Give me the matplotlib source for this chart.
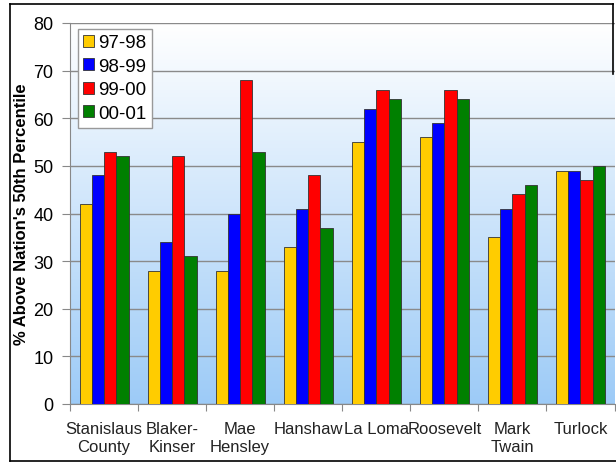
import numpy as np
import matplotlib
matplotlib.use("Agg")
from matplotlib import pyplot as plt
from matplotlib.colors import LinearSegmentedColormap
from matplotlib.lines import Line2D

plt.rcParams['font.family'] = ['Liberation Sans', 'DejaVu Sans']

# school names and yearly scores
schools = ["Stanislaus\nCounty", "Blaker-\nKinser", "Mae\nHensley", "Hanshaw",
           "La Loma", "Roosevelt", "Mark\nTwain", "Turlock"]
years = ["97-98", "98-99", "99-00", "00-01"]
scores_97_98 = [42, 28, 28, 33, 55, 56, 35, 49]
scores_98_99 = [48, 34, 40, 41, 62, 59, 41, 49]
scores_99_00 = [53, 52, 68, 48, 66, 66, 44, 47]
scores_00_01 = [52, 31, 53, 37, 64, 64, 46, 50]
colors = ["#FFCC00", "#0000FF", "#FF0000", "#008000"]

fig = plt.figure(figsize=(6.16, 4.64), dpi=100)
ax = fig.add_axes([70 / 616, 1 - 405 / 464, 544.5 / 616, 381 / 464])

# white-to-blue background
grad = LinearSegmentedColormap.from_list("bg", ["#FFFFFF", "#9DCBF7"])
ax.imshow(np.linspace(0, 1, 256).reshape(-1, 1), cmap=grad, aspect="auto",
          extent=[0, len(schools), 0, 80], zorder=0)

x = np.arange(len(schools)) + 0.5
w = 0.18
series = [scores_97_98, scores_98_99, scores_99_00, scores_00_01]
for i, (vals, c, lab) in enumerate(zip(series, colors, years)):
    ax.bar(x + (i - 1.5) * w, vals, width=w, color=c, edgecolor="#333333",
           linewidth=0.6, label=lab, zorder=3)

ax.set_xlim(0, len(schools))
ax.set_ylim(0, 80)
ax.set_yticks(range(0, 81, 10))
ax.yaxis.grid(True, color="#8a8a8a", linewidth=1.0, zorder=1)
ax.set_axisbelow(False)

ax.set_xticks(np.arange(len(schools) + 1))
ax.set_xticklabels([])
ax.set_xticks(x, minor=True)
ax.set_xticklabels(schools, minor=True, fontsize=12, color="#222222",
                   linespacing=1.3)
ax.tick_params(axis="x", which="minor", length=0, pad=12)
ax.tick_params(axis="x", which="major", length=5, color="#888888", direction="out")
ax.tick_params(axis="y", length=6, color="#888888", labelsize=13, pad=6)

for side in ["top", "right"]:
    ax.spines[side].set_visible(False)
ax.spines["left"].set_color("#888888")
ax.spines["bottom"].set_color("#888888")

ax.set_ylabel("% Above Nation's 50th Percentile", fontsize=12,
              fontweight="bold", labelpad=3)

leg = ax.legend(loc="upper left", bbox_to_anchor=(0.014, 0.985), fontsize=13.5,
                frameon=True, fancybox=False, handlelength=0.6, handleheight=0.6,
                handletextpad=0.2, borderpad=0.3, labelspacing=0.35,
                borderaxespad=0.0, edgecolor="#999999")
leg.get_frame().set_linewidth(1.0)
leg.get_frame().set_facecolor("white")
leg.get_frame().set_alpha(1.0)

# outer frame around the figure
border = dict(color="black", linewidth=1.2, transform=fig.transFigure)
fig.add_artist(Line2D([10 / 616, 10 / 616], [1 - 462 / 464, 1 - 5 / 464], **border))
fig.add_artist(Line2D([10 / 616, 613 / 616], [1 - 5 / 464, 1 - 5 / 464], **border))
fig.add_artist(Line2D([613 / 616, 613 / 616], [1 - 5 / 464, 1 - 75 / 464], **border))
fig.add_artist(Line2D([10 / 616, 616 / 616], [1 - 462 / 464, 1 - 462 / 464], **border))

fig.savefig("out.png", dpi=100)
